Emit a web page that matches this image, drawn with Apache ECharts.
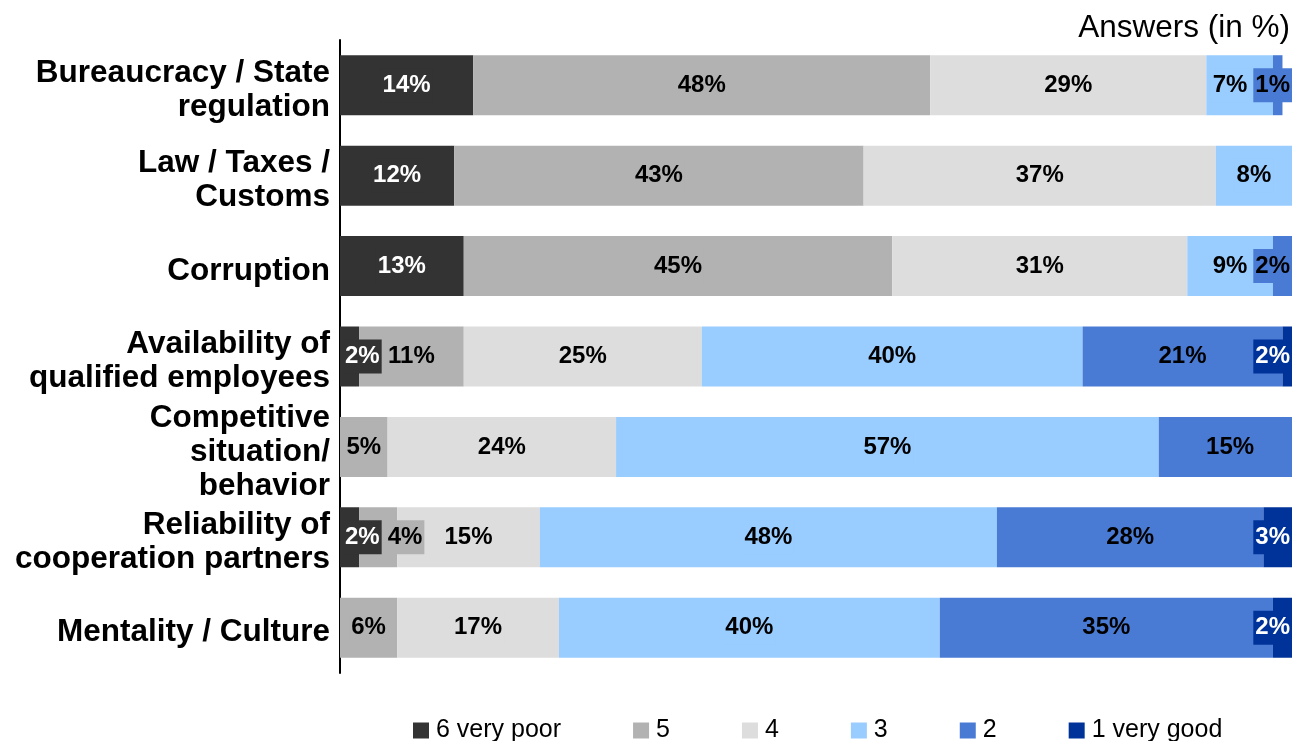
<!DOCTYPE html>
<html>
<head>
<meta charset="utf-8">
<title>Answers (in %)</title>
<script src="https://cdn.jsdelivr.net/npm/echarts@6/dist/echarts.min.js"></script>
<style>
  html, body { margin: 0; padding: 0; background: #ffffff; }
  #chart { width: 1292px; height: 741px; }
</style>
</head>
<body>
<div id="chart"></div>
<script>
// Rated business conditions, answers in percent per rating
const categories = [
  'Bureaucracy / State\nregulation',
  'Law / Taxes /\nCustoms',
  'Corruption',
  'Availability of\nqualified employees',
  'Competitive\nsituation/\nbehavior',
  'Reliability of\ncooperation partners',
  'Mentality / Culture'
];
const ratingNames = ['6 very poor', '5', '4', '3', '2', '1 very good'];
const rating6 = [14, 12, 13, 2, 0, 2, 0];
const rating5 = [48, 43, 45, 11, 5, 4, 6];
const rating4 = [29, 37, 31, 25, 24, 15, 17];
const rating3 = [7, 8, 9, 40, 57, 48, 40];
const rating2 = [1, 0, 2, 21, 15, 28, 35];
const rating1 = [0, 0, 0, 2, 0, 3, 2];

const ratingValues = [rating6, rating5, rating4, rating3, rating2, rating1];
const ratingColors = ['#333333', '#b2b2b2', '#dddddd', '#99ccff', '#4a7bd4', '#003399'];
const labelColors = ['#ffffff', '#000000', '#000000', '#000000', '#000000', '#ffffff'];

const FONT = "'Liberation Sans', Arial, Helvetica, sans-serif";
const GRID_LEFT = 340, GRID_WIDTH = 952;
const LABEL_FONT_SIZE = 24, LABEL_PAD_X = 2;

// Measure label widths so small segments' labels can be kept inside the plot
// and nudged apart when they would overlap.
const measureCtx = document.createElement('canvas').getContext('2d');
measureCtx.font = 'bold ' + LABEL_FONT_SIZE + 'px ' + FONT;
function labelWidth(text) {
  return measureCtx.measureText(text).width + 2 * LABEL_PAD_X;
}

const labelOffsets = ratingValues.map(() => categories.map(() => 0));
(function placeLabels() {
  const k = GRID_WIDTH / 100, edgeL = 3, gap = 4;
  const clampRight = it => { if (it.c + it.w / 2 > GRID_WIDTH) it.c = GRID_WIDTH - it.w / 2; };
  const clampLeft = it => { if (it.c - it.w / 2 < edgeL) it.c = edgeL + it.w / 2; };
  categories.forEach((_, i) => {
    const items = [];
    let cum = 0;
    ratingValues.forEach((arr, s) => {
      const v = arr[i];
      if (v > 0) {
        const c = (cum + v / 2) * k;
        items.push({ s, c0: c, c, w: labelWidth(v + '%') });
        cum += v;
      }
    });
    items.forEach(it => { clampLeft(it); clampRight(it); });
    // spread to the right, keep inside the plot, then spread to the left
    for (let j = 1; j < items.length; j++) {
      const p = items[j - 1], it = items[j];
      const minC = p.c + p.w / 2 + gap + it.w / 2;
      if (it.c < minC) it.c = minC;
    }
    items.forEach(clampRight);
    for (let j = items.length - 2; j >= 0; j--) {
      const n = items[j + 1], it = items[j];
      const maxC = n.c - n.w / 2 - gap - it.w / 2;
      if (it.c > maxC) it.c = maxC;
    }
    items.forEach(clampLeft);
    items.forEach(it => { labelOffsets[it.s][i] = it.c - it.c0; });
  });
})();

const series = ratingNames.map((name, s) => ({
  name,
  type: 'bar',
  stack: 'answers',
  barWidth: 60,
  clip: false,
  itemStyle: { color: ratingColors[s] },
  label: {
    show: true,
    position: 'inside',
    formatter: '{c}%',
    fontFamily: FONT,
    fontSize: LABEL_FONT_SIZE,
    fontWeight: 'bold',
    color: labelColors[s],
    backgroundColor: ratingColors[s],
    padding: [5, LABEL_PAD_X]
  },
  emphasis: { disabled: true },
  data: ratingValues[s].map((v, i) => ({
    value: v,
    label: { show: v > 0, offset: [labelOffsets[s][i], 0] }
  }))
}));

const chart = echarts.init(document.getElementById('chart'), null, { renderer: 'canvas' });
chart.setOption({
  animation: false,
  backgroundColor: '#ffffff',
  textStyle: { fontFamily: FONT },
  title: {
    text: 'Answers (in %)',
    right: 2,
    top: 12,
    padding: 0,
    textStyle: { fontFamily: FONT, fontSize: 31.5, fontWeight: 'normal', color: '#000000' }
  },
  grid: { left: GRID_LEFT, width: GRID_WIDTH, top: 40, bottom: 68, containLabel: false },
  xAxis: {
    type: 'value',
    min: 0,
    max: 100,
    show: false
  },
  yAxis: {
    type: 'category',
    inverse: true,
    data: categories,
    axisTick: { show: false },
    axisLine: { show: true, lineStyle: { color: '#000000', width: 2 } },
    axisLabel: {
      margin: 10,
      fontFamily: FONT,
      fontSize: 31.5,
      fontWeight: 'bold',
      lineHeight: 34,
      color: '#000000',
      align: 'right',
      // a thin spacer line above each name sets the text slightly below the bar centre
      formatter: v => '{gap| }\n' + v,
      rich: {
        gap: { fontSize: 1, lineHeight: 10 }
      }
    }
  },
  legend: {
    left: 413,
    top: 718,
    padding: 0,
    itemWidth: 16,
    itemHeight: 16,
    itemGap: 72,
    icon: 'rect',
    data: ratingNames,
    textStyle: {
      fontFamily: FONT,
      fontSize: 25,
      color: '#000000',
      padding: [0, 0, 0, 2]
    }
  },
  series
});
</script>
</body>
</html>
